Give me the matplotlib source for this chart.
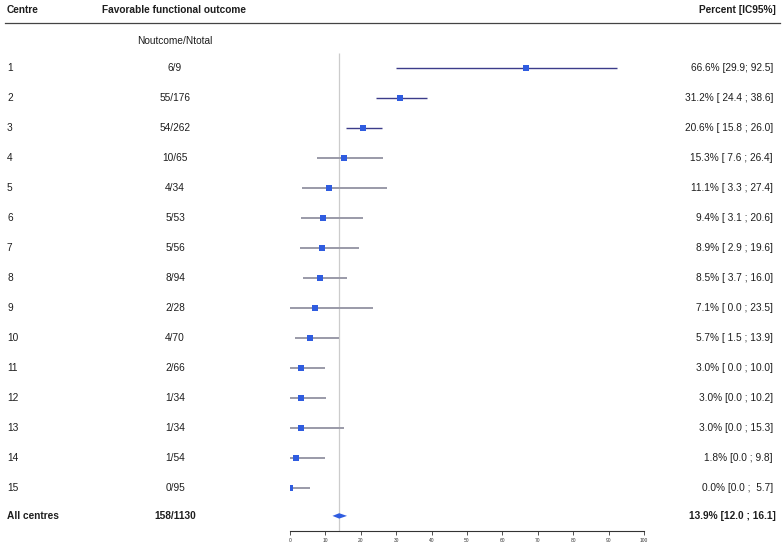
import numpy as np
import matplotlib.pyplot as plt

plt.rcParams['font.family'] = ['Liberation Sans', 'DejaVu Sans']
plt.rcParams['text.color'] = '#1e1e1e'

centres = [str(i) for i in range(1, 16)]
counts = ["6/9", "55/176", "54/262", "10/65", "4/34", "5/53", "5/56", "8/94",
          "2/28", "4/70", "2/66", "1/34", "1/34", "1/54", "0/95"]
est = [66.6, 31.2, 20.6, 15.3, 11.1, 9.4, 8.9, 8.5, 7.1, 5.7, 3.0, 3.0, 3.0, 1.8, 0.0]
lo = [29.9, 24.4, 15.8, 7.6, 3.3, 3.1, 2.9, 3.7, 0.0, 1.5, 0.0, 0.0, 0.0, 0.0, 0.0]
hi = [92.5, 38.6, 26.0, 26.4, 27.4, 20.6, 19.6, 16.0, 23.5, 13.9, 10.0, 10.2, 15.3, 9.8, 5.7]
labels = ["66.6% [29.9; 92.5]", "31.2% [ 24.4 ; 38.6]", "20.6% [ 15.8 ; 26.0]",
          "15.3% [ 7.6 ; 26.4]", "11.1% [ 3.3 ; 27.4]", "9.4% [ 3.1 ; 20.6]",
          "8.9% [ 2.9 ; 19.6]", "8.5% [ 3.7 ; 16.0]", "7.1% [ 0.0 ; 23.5]",
          "5.7% [ 1.5 ; 13.9]", "3.0% [ 0.0 ; 10.0]", "3.0% [0.0 ; 10.2]",
          "3.0% [0.0 ; 15.3]", "1.8% [0.0 ; 9.8]", "0.0% [0.0 ;  5.7]"]
total_count = "158/1130"
total_est, total_lo, total_hi = 13.9, 12.0, 16.1
total_label = "13.9% [12.0 ; 16.1]"

W, H = 784, 554
fig = plt.figure(figsize=(W / 100, H / 100), dpi=100)
ax = fig.add_axes([290 / W, (H - 531) / H, 354 / W, 531 / H])

rows = np.arange(1, 16)
y_tot = 15.92
y_top, y_bot = 1 - 68.3 / 30, 1 + (531 - 68.3) / 30
ax.set_xlim(0, 100)
ax.set_ylim(y_bot, y_top)

# reference line at the pooled estimate
ax.vlines(total_est, 0.49, y_bot, color='#cccccc', lw=0.9, zorder=1)

for i, r in enumerate(rows):
    c = '#3c3c8a' if i < 3 else '#9a9aa8'
    lw = 1.0 if i < 3 else 1.4
    ax.plot([lo[i], hi[i]], [r, r], color=c, lw=lw, solid_capstyle='butt', zorder=2)
ax.plot(est, rows, 's', color='#2f5ce0', ms=3.8, mew=0, zorder=3)

h = 0.09
ax.fill([total_lo, total_est, total_hi, total_est], [y_tot, y_tot - h, y_tot, y_tot + h],
        color='#2f5ce0', lw=0, zorder=3)

for s in ['top', 'right', 'left']:
    ax.spines[s].set_visible(False)
ax.spines['bottom'].set_color('#333333')
ax.spines['bottom'].set_linewidth(0.8)
ax.set_yticks([])
ax.set_xticks(np.arange(0, 101, 10))
ax.tick_params(axis='x', labelsize=3.5, length=3, width=0.6, pad=2, colors='#333333')

# text columns, x in figure pixels / y in row units
tr = ax.get_yaxis_transform()
def fx(px):
    return (px - 290) / 354

fs = 7.3
ax.text(fx(7), -0.943, "Centre", fontsize=fs, fontweight='bold', va='center', transform=tr, clip_on=False)
ax.text(fx(102), -0.943, "Favorable functional outcome", fontsize=fs, fontweight='bold', va='center', transform=tr, clip_on=False)
ax.text(fx(776), -0.943, "Percent [IC95%]", fontsize=fs, fontweight='bold', va='center', ha='right', transform=tr, clip_on=False)
ax.plot([fx(5), fx(780)], [-0.5, -0.5], color='#444444', lw=0.9, transform=tr, clip_on=False)
ax.text(fx(175), 0.08, "Noutcome/Ntotal", fontsize=fs, va='center', ha='center', transform=tr, clip_on=False)

for i, r in enumerate(rows):
    ax.text(fx(7), r, centres[i], fontsize=fs, va='center', transform=tr, clip_on=False)
    ax.text(fx(175), r, counts[i], fontsize=fs, va='center', ha='center', transform=tr, clip_on=False)
    ax.text(fx(773), r, labels[i], fontsize=fs, va='center', ha='right', transform=tr, clip_on=False)

ax.text(fx(7), y_tot, "All centres", fontsize=fs, fontweight='bold', va='center', transform=tr, clip_on=False)
ax.text(fx(175), y_tot, total_count, fontsize=fs, fontweight='bold', va='center', ha='center', transform=tr, clip_on=False)
ax.text(fx(776), y_tot, total_label, fontsize=fs, fontweight='bold', va='center', ha='right', transform=tr, clip_on=False)

fig.savefig("out.png", dpi=100, facecolor='white')
